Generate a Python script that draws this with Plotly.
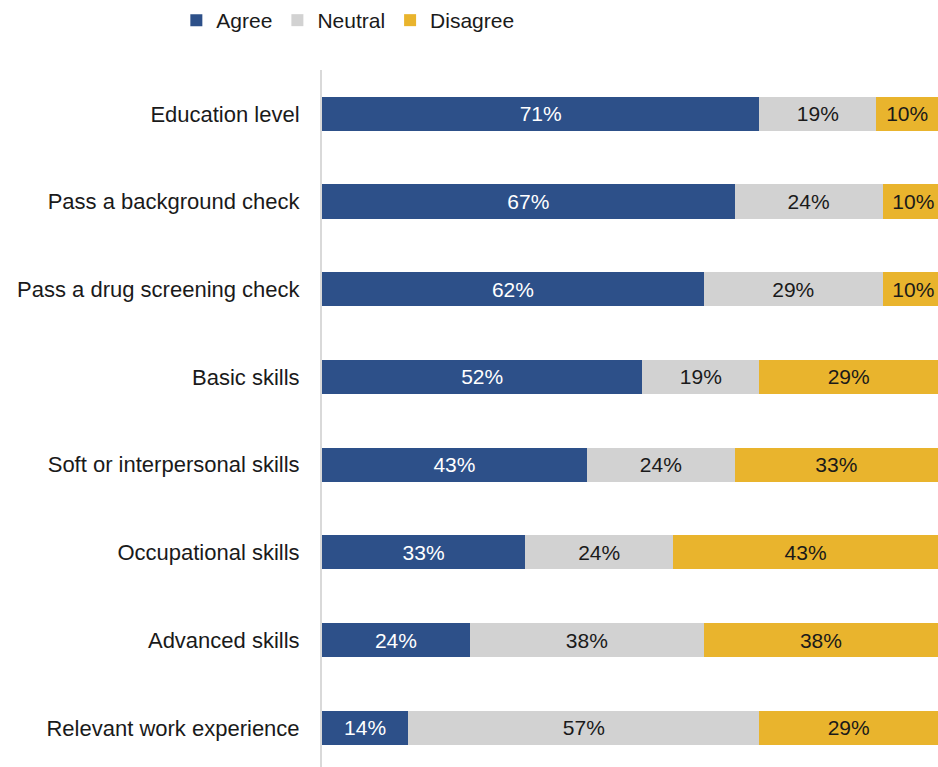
import plotly.graph_objects as go

categories = [
    "Education level",
    "Pass a background check",
    "Pass a drug screening check",
    "Basic skills",
    "Soft or interpersonal skills",
    "Occupational skills",
    "Advanced skills",
    "Relevant work experience",
]
agree = [71, 67, 62, 52, 43, 33, 24, 14]
neutral = [19, 24, 29, 19, 24, 24, 38, 57]
disagree = [10, 10, 10, 29, 33, 43, 38, 29]

series = [
    ("Agree", agree, "#2D5089", "white"),
    ("Neutral", neutral, "#D2D2D2", "#1a1a1a"),
    ("Disagree", disagree, "#E9B42D", "#1a1a1a"),
]

FONT = "Liberation Sans"

fig = go.Figure()
for name, vals, color, tcolor in series:
    fig.add_trace(go.Bar(
        y=categories,
        x=vals,
        name=name,
        orientation="h",
        marker=dict(color=color, line=dict(width=0)),
        text=[f"{v}%" for v in vals],
        textposition="inside",
        insidetextanchor="middle",
        textangle=0,
        constraintext="none",
        textfont=dict(family=FONT, size=21, color=tcolor),
    ))

fig.update_layout(
    barmode="stack",
    bargap=0.61,
    width=938,
    height=767,
    margin=dict(l=322, r=0, t=70, b=0),
    paper_bgcolor="white",
    plot_bgcolor="white",
    font=dict(family=FONT, size=21, color="#1a1a1a"),
    legend=dict(
        orientation="h",
        xref="container", yref="container",
        x=0.188, y=1.0, xanchor="left", yanchor="top",
        font=dict(family=FONT, size=21, color="#1a1a1a"),
        itemwidth=30,
        traceorder="normal",
    ),
    xaxis=dict(
        range=[0, 100],
        showgrid=False,
        zeroline=False,
        showticklabels=False,
        showline=False,
        fixedrange=True,
    ),
    yaxis=dict(
        categoryorder="array",
        categoryarray=categories,
        range=[7.447, -0.5],
        showgrid=False,
        zeroline=False,
        showline=True,
        linecolor="#D9D9D9",
        linewidth=2,
        ticks="",
        ticklabelstandoff=16,
        tickfont=dict(family=FONT, size=22, color="#1a1a1a"),
    ),
)

fig.write_html("out.html")
